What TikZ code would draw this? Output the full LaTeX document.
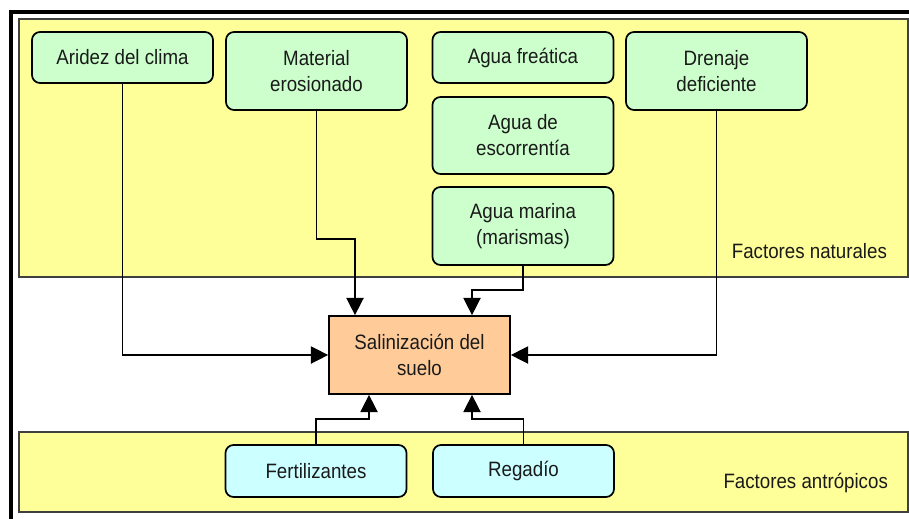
\documentclass[tikz,border=0pt]{standalone}
\usepackage{fontspec}
\setmainfont[FakeStretch=0.9]{Liberation Sans}
\usepackage{tikz}
\usetikzlibrary{arrows.meta,shapes}
\definecolor{panelyellow}{HTML}{FFFF99}
\definecolor{natgreen}{HTML}{CCFFCC}
\definecolor{antcyan}{HTML}{CCFFFF}
\definecolor{soilorange}{HTML}{FFCC99}
\definecolor{paneledge}{HTML}{404040}
\definecolor{textgray}{HTML}{1A1A1A}

\begin{document}
\begin{tikzpicture}[x=0.75pt,y=-0.75pt,>={Triangle[length=13pt,width=13pt]},
                    line width=1pt,font=\fontsize{15.6}{19.5}\selectfont,text=textgray]
  \tikzstyle{panel}=[fill=panelyellow,draw=paneledge,line width=1.3pt]
  \tikzstyle{factor}=[draw=black,line width=1.3pt,rounded corners=6pt,align=center,
                      minimum width=135.75pt,inner sep=0pt]
  \tikzstyle{natural}=[factor,fill=natgreen]
  \tikzstyle{antropic}=[factor,fill=antcyan,minimum height=39pt]
  \tikzstyle{result}=[draw=black,line width=1.3pt,fill=soilorange,align=center,
                      minimum width=135.75pt,minimum height=58.5pt,inner sep=0pt]
  \tikzstyle{link}=[->,draw=black,line width=1.1pt]

  \useasboundingbox (0,0) rectangle (909,518);
  \clip (0,0) rectangle (909,518);

  \draw[panel] (19,19) rectangle (908,277);
  \draw[panel] (19,432) rectangle (908,512);
  \draw[line width=3pt] (11,521) -- (11,12) -- (912,12);

  \node[natural,minimum height=38.25pt] (arid)   at (122.5,57.5) {Aridez del clima};
  \node[natural,minimum height=58.5pt]  (mat)    at (316.5,71)   {Material\\erosionado};
  \node[natural,minimum height=38.25pt] (freat)  at (523,57.5)   {Agua freática};
  \node[natural,minimum height=57.75pt] (escor)  at (523,135.5)  {Agua de\\escorrentía};
  \node[natural,minimum height=58.5pt]  (marina) at (523,226)    {Agua marina\\(marismas)};
  \node[natural,minimum height=58.5pt]  (dren)   at (716.5,71)   {Drenaje\\deficiente};
  \node[result]                         (sal)    at (419.5,355)  {Salinización del\\suelo};
  \node[antropic]                       (fert)   at (316,471)    {Fertilizantes};
  \node[antropic]                       (reg)    at (523.5,471)  {Regadío};

  \node[anchor=base east] (natlabel) at (892,258) {Factores naturales};
  \node[anchor=base east] (antlabel) at (893,488) {Factores antrópicos};

  \coordinate (matbend)  at (355,239);
  \coordinate (marbend)  at (472,290);
  \coordinate (fertbend) at (369,419);
  \coordinate (regbend)  at (472,419);

  \path[link] (arid) |- (sal);
  \path[link] (dren) |- (sal);
  \path[link] (mat) |- (matbend) -- (matbend |- sal.north);
  \path[link] (marina) |- (marbend) -- (marbend |- sal.north);
  \path[link] (fert) |- (fertbend) -- (fertbend |- sal.south);
  \path[link] (reg) |- (regbend) -- (regbend |- sal.south);
\end{tikzpicture}
\end{document}
